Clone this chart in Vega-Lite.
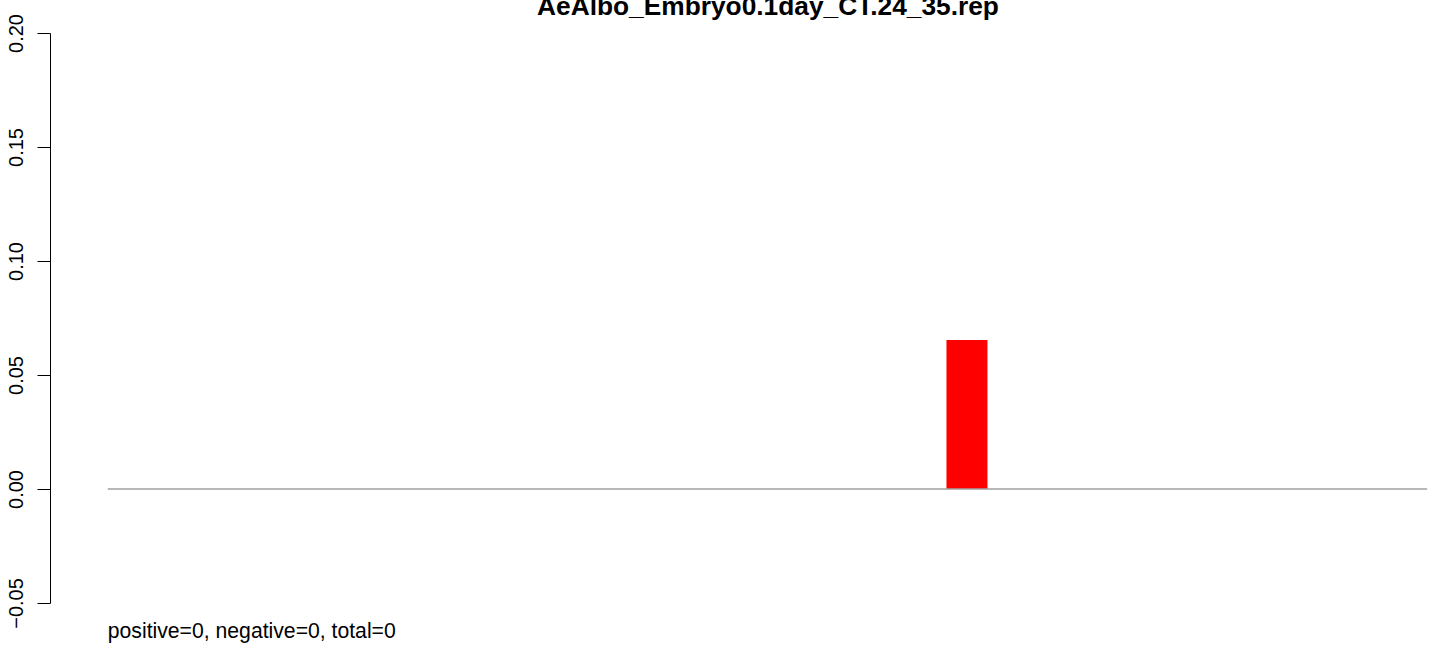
{
  "$schema": "https://vega.github.io/schema/vega-lite/v6.json",
  "width": 1394,
  "height": 570,
  "autosize": {"type": "none"},
  "padding": {"left": 50, "top": 33, "right": 0, "bottom": 42},
  "background": "white",
  "config": {"view": {"stroke": null}, "font": "Liberation Sans"},
  "title": {
    "text": "AeAlbo_Embryo0.1day_CT.24_35.rep",
    "font": "Liberation Sans",
    "fontSize": 26.3,
    "fontWeight": "bold",
    "color": "black",
    "anchor": "middle",
    "baseline": "alphabetic",
    "offset": -28,
    "dx": 21
  },
  "datasets": {
    "bars": [
      {"bin": 1, "value": 0}, {"bin": 2, "value": 0}, {"bin": 3, "value": 0},
      {"bin": 4, "value": 0}, {"bin": 5, "value": 0}, {"bin": 6, "value": 0},
      {"bin": 7, "value": 0}, {"bin": 8, "value": 0}, {"bin": 9, "value": 0},
      {"bin": 10, "value": 0}, {"bin": 11, "value": 0}, {"bin": 12, "value": 0},
      {"bin": 13, "value": 0}, {"bin": 14, "value": 0}, {"bin": 15, "value": 0},
      {"bin": 16, "value": 0}, {"bin": 17, "value": 0}, {"bin": 18, "value": 0.0654},
      {"bin": 19, "value": 0}, {"bin": 20, "value": 0}, {"bin": 21, "value": 0},
      {"bin": 22, "value": 0}, {"bin": 23, "value": 0}, {"bin": 24, "value": 0},
      {"bin": 25, "value": 0}, {"bin": 26, "value": 0}, {"bin": 27, "value": 0}
    ],
    "baseline": [{"from": 0.4167, "to": 27.4167, "level": 0}],
    "note": [{"bin": 0.4167, "y": -0.0654, "label": "positive=0, negative=0, total=0"}]
  },
  "layer": [
    {
      "data": {"name": "bars"},
      "mark": {"type": "bar", "color": "#ff0000", "width": 41},
      "encoding": {
        "x": {
          "field": "bin",
          "type": "quantitative",
          "scale": {"domain": [-0.663, 27.66], "nice": false, "zero": false},
          "axis": null
        },
        "y": {
          "field": "value",
          "type": "quantitative",
          "scale": {"domain": [-0.05, 0.2], "nice": false, "zero": false},
          "axis": {
            "values": [-0.05, 0, 0.05, 0.1, 0.15, 0.2],
            "format": ".2f",
            "title": null,
            "grid": false,
            "domainColor": "black",
            "domainWidth": 1,
            "tickColor": "black",
            "tickWidth": 1,
            "tickSize": 13,
            "labelAngle": -90,
            "labelAlign": "center",
            "labelBaseline": "bottom",
            "labelFont": "Liberation Sans",
            "labelFontSize": 20,
            "labelColor": "black",
            "labelPadding": 11,
            "labelOverlap": false,
            "labelFlush": false
          }
        }
      }
    },
    {
      "data": {"name": "baseline"},
      "mark": {"type": "rule", "color": "#a0a0a0", "strokeWidth": 1.5},
      "encoding": {
        "x": {"field": "from", "type": "quantitative"},
        "x2": {"field": "to"},
        "y": {"field": "level", "type": "quantitative"}
      }
    },
    {
      "data": {"name": "note"},
      "mark": {"type": "text", "align": "left", "baseline": "alphabetic", "fontSize": 21.2, "font": "Liberation Sans", "color": "black"},
      "encoding": {
        "x": {"field": "bin", "type": "quantitative"},
        "y": {"field": "y", "type": "quantitative"},
        "text": {"field": "label"}
      }
    }
  ]
}
